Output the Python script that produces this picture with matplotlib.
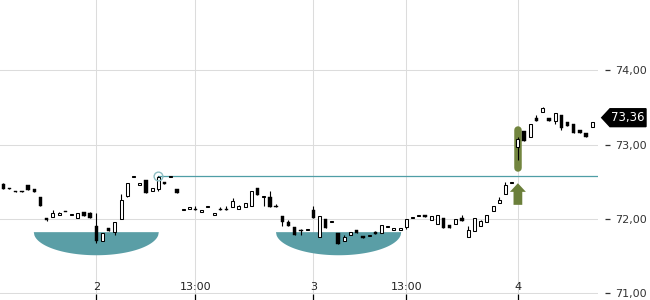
import numpy as np
import matplotlib
matplotlib.use('Agg')
import matplotlib.pyplot as plt
from matplotlib.patches import Polygon
from matplotlib.transforms import blended_transform_factory

plt.rcParams['font.family'] = 'DejaVu Sans'
plt.rcParams['font.size'] = 8

# --------------------------
# candle data (open / high / low / close)
# --------------------------
opens = [72.47, 72.42, 72.38, 72.37, 72.46, 72.40, 72.30, 72.01, 72.03, 72.05,
         72.10, 72.05, 72.01, 72.09, 72.08, 71.90, 71.71, 71.88, 71.83, 72.00,
         72.31, 72.56, 72.45, 72.52, 72.37, 72.40, 72.49, 72.56, 72.40, 72.12,
         72.13, 72.14, 72.09, 72.16, 72.05, 72.14, 72.14, 72.16, 72.13, 72.16,
         72.17, 72.41, 72.29, 72.30, 72.18, 72.04, 71.96, 71.89, 71.85, 71.85,
         72.12, 71.76, 72.00, 71.96, 71.81, 71.70, 71.79, 71.85, 71.77, 71.77,
         71.82, 71.81, 71.89, 71.85, 71.85, 71.89, 72.01, 72.04, 72.05, 71.99,
         71.93, 72.01, 71.92, 71.93, 72.02, 71.76, 71.84, 71.91, 71.96, 72.11,
         72.21, 72.33, 72.48, 72.97, 73.18, 73.10, 73.35, 73.43, 73.35, 73.31,
         73.40, 73.30, 73.28, 73.19, 73.15, 73.23]
highs = [72.48, 72.42, 72.38, 72.37, 72.46, 72.40, 72.30, 72.01, 72.12, 72.09,
         72.10, 72.05, 72.08, 72.09, 72.09, 72.08, 71.81, 71.88, 71.96, 72.33,
         72.48, 72.56, 72.48, 72.52, 72.41, 72.58, 72.49, 72.56, 72.40, 72.12,
         72.16, 72.17, 72.12, 72.16, 72.08, 72.16, 72.17, 72.28, 72.19, 72.21,
         72.37, 72.41, 72.29, 72.37, 72.20, 72.04, 71.99, 71.89, 71.87, 71.85,
         72.17, 72.04, 72.00, 71.96, 71.81, 71.79, 71.83, 71.85, 71.77, 71.77,
         71.84, 71.92, 71.89, 71.88, 71.88, 72.00, 72.01, 72.04, 72.06, 72.04,
         72.05, 72.01, 71.92, 72.00, 72.05, 71.90, 72.01, 71.99, 72.05, 72.17,
         72.29, 72.50, 72.48, 73.10, 73.18, 73.28, 73.39, 73.51, 73.35, 73.42,
         73.40, 73.30, 73.28, 73.19, 73.15, 73.30]
lows = [72.40, 72.40, 72.36, 72.36, 72.39, 72.36, 72.17, 71.97, 72.03, 72.05,
        72.09, 72.05, 72.01, 72.04, 72.01, 71.68, 71.71, 71.84, 71.78, 72.00,
        72.29, 72.56, 72.45, 72.35, 72.37, 72.37, 72.47, 72.56, 72.35, 72.12,
        72.13, 72.12, 72.09, 72.16, 72.05, 72.12, 72.12, 72.16, 72.13, 72.16,
        72.17, 72.32, 72.17, 72.16, 72.16, 71.90, 71.91, 71.79, 71.78, 71.85,
        72.01, 71.76, 71.88, 71.96, 71.67, 71.70, 71.79, 71.81, 71.75, 71.77,
        71.80, 71.81, 71.89, 71.85, 71.85, 71.86, 72.01, 72.04, 72.03, 71.99,
        71.93, 71.88, 71.88, 71.93, 71.97, 71.76, 71.84, 71.90, 71.96, 72.11,
        72.21, 72.33, 72.48, 72.79, 73.05, 73.10, 73.31, 73.43, 73.31, 73.28,
        73.20, 73.25, 73.15, 73.15, 73.10, 73.23]
closes = [72.40, 72.40, 72.36, 72.36, 72.39, 72.36, 72.17, 71.99, 72.08, 72.08,
          72.09, 72.05, 72.08, 72.04, 72.01, 71.70, 71.81, 71.84, 71.96, 72.25,
          72.48, 72.56, 72.48, 72.35, 72.41, 72.56, 72.47, 72.56, 72.35, 72.12,
          72.16, 72.12, 72.12, 72.16, 72.08, 72.12, 72.12, 72.24, 72.17, 72.21,
          72.37, 72.32, 72.29, 72.16, 72.16, 71.96, 71.91, 71.79, 71.84, 71.85,
          72.01, 72.04, 71.88, 71.96, 71.67, 71.76, 71.83, 71.81, 71.75, 71.77,
          71.80, 71.92, 71.89, 71.88, 71.88, 72.00, 72.01, 72.04, 72.03, 72.04,
          72.05, 71.88, 71.88, 72.00, 71.97, 71.85, 72.01, 71.97, 72.05, 72.17,
          72.26, 72.46, 72.48, 73.07, 73.05, 73.28, 73.31, 73.49, 73.31, 73.42,
          73.22, 73.25, 73.15, 73.15, 73.10, 73.30]

tick_pos = [15, 31, 50, 65, 83]
tick_labels = ['2', '13:00', '3', '13:00', '4']
price_ticks = [71, 72, 73, 74]

# annotations
cup_start = [4.84, 43.9]
cup_end = [25.0, 64.1]
cup_top = 71.83
cup_bottom = 71.52
resist_from = 25
resist_level = 72.577
signal_bar = 83
signal_lo, signal_hi = 72.63, 73.24
arrow_tail, arrow_tip = 72.19, 72.48
last_price = 73.36

teal = '#5a9ea6'
olive = '#6b7f3a'

fig = plt.figure(figsize=(6.5, 3.0), dpi=100)
ax = fig.add_axes([0, 6 / 300, 598 / 650, 294 / 300])

x = np.arange(len(opens))

# cups
for s, e in zip(cup_start, cup_end):
    xs = np.linspace(s, e, 200)
    cx, rx = (s + e) / 2, (e - s) / 2
    ys = cup_top - (cup_top - cup_bottom) * np.sqrt(np.clip(1 - ((xs - cx) / rx) ** 2, 0, 1))
    ax.fill_between(xs, ys, cup_top, color=teal, lw=0, zorder=1)

# resistance line + circle
ax.plot([resist_from, 100], [resist_level, resist_level], color='#4f9ea6', lw=0.9, zorder=2)
ax.plot(resist_from, highs[resist_from], 'o', ms=6.3, mfc='none', mec='#8dbec3', mew=1.0, zorder=5)

# breakout highlight and arrow
ax.plot([signal_bar, signal_bar], [signal_lo + 0.05, signal_hi - 0.05], color='#72853f',
        lw=5.4, solid_capstyle='round', zorder=2)
ax.annotate('', xy=(signal_bar, arrow_tip), xytext=(signal_bar, arrow_tail),
            arrowprops=dict(arrowstyle='simple,head_width=1.15,head_length=0.62,tail_width=0.63',
                            color=olive, lw=0, shrinkA=0, shrinkB=0, mutation_scale=10), zorder=2)

# candles
o = np.array(opens); c = np.array(closes)
up = c >= o
ax.vlines(x, lows, highs, color='black', lw=0.8, zorder=3)
body_lo = np.minimum(o, c)
body_h = np.maximum(np.abs(c - o), 0.013)
ax.bar(x[up], body_h[up], bottom=body_lo[up], width=0.5, color='white',
       edgecolor='black', linewidth=0.75, zorder=4)
ax.bar(x[~up], body_h[~up], bottom=body_lo[~up], width=0.55, color='black',
       edgecolor='black', linewidth=0.3, zorder=4)

# axes setup
ax.set_xlim(-0.532, 95.92)
ax.set_ylim(70.993, 74.94)
ax.set_xticks(tick_pos)
ax.set_xticklabels(tick_labels)
ax.set_yticks(price_ticks)
ax.set_yticklabels([f'{v:.2f}'.replace('.', ',') for v in price_ticks])
ax.yaxis.tick_right()
for s in ax.spines.values():
    s.set_visible(False)
ax.spines['right'].set_position(('outward', 5))
ax.tick_params(axis='y', length=3.6, width=0.9, color='#333333', labelcolor='#333333', pad=3.5)
ax.tick_params(axis='x', length=4.3, width=0.9, color='black', labelcolor='#222222', pad=-13)
ax.grid(True, color='#dcdcdc', lw=0.75)
ax.set_axisbelow(True)

# last price tag
tr = blended_transform_factory(fig.transFigure, ax.transData)
hh = 0.12
tag = Polygon([(601.7 / 650, last_price), (610 / 650, last_price + hh), (646 / 650, last_price + hh),
               (646 / 650, last_price - hh), (610 / 650, last_price - hh)],
              closed=True, color='black', transform=tr, clip_on=False, zorder=6)
ax.add_patch(tag)
ax.text(628 / 650, last_price, f'{last_price:.2f}'.replace('.', ','), color='white', fontsize=8.5,
        ha='center', va='center', transform=tr, clip_on=False, zorder=7)

fig.savefig('out.png', dpi=100)
